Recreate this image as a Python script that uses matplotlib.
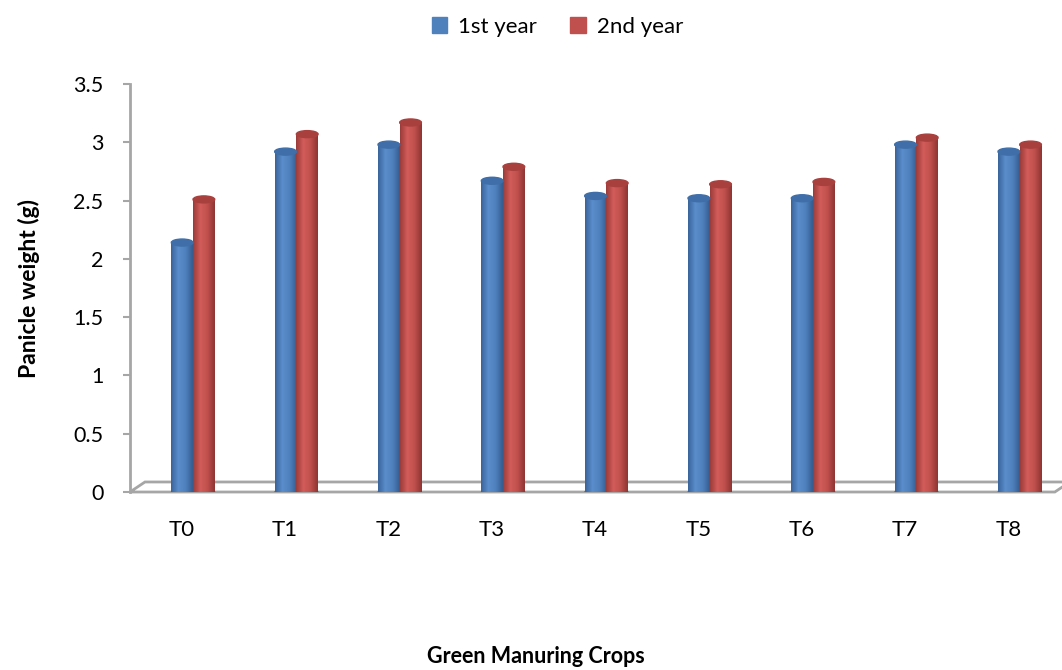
import numpy as np
import matplotlib
matplotlib.use("Agg")
import matplotlib.pyplot as plt
from matplotlib.patches import Ellipse, Polygon
from matplotlib.colors import LinearSegmentedColormap

plt.rcParams["font.family"] = ["Lato", "DejaVu Sans"]

treatments = ["T0", "T1", "T2", "T3", "T4", "T5", "T6", "T7", "T8"]
year1 = [2.14, 2.92, 2.98, 2.67, 2.54, 2.52, 2.52, 2.98, 2.92]
year2 = [2.51, 3.07, 3.17, 2.79, 2.65, 2.64, 2.66, 3.04, 2.98]
series_names = ["1st year", "2nd year"]
yticks = [0, 0.5, 1, 1.5, 2, 2.5, 3, 3.5]

BLUE = "#4f81bd"
RED = "#c0504d"
GREY = "#a6a6a6"

# cylinder shading: dark edge, light middle, dark edge
shade = {
    BLUE: LinearSegmentedColormap.from_list("b", ["#3a649a", "#5a8dcb", "#4f81bd", "#355d90"]),
    RED: LinearSegmentedColormap.from_list("r", ["#9b3c3a", "#d25c59", "#c0504d", "#8e3533"]),
}
cap_col = {BLUE: "#3f6ea8", RED: "#a8403e"}

fig = plt.figure(figsize=(10.62, 6.70), dpi=100)
ax = fig.add_axes([130 / 1062, 178 / 670, 930 / 1062, 408 / 670])

x = np.arange(len(treatments))
w = 0.21
depth = 0.11  # columns sit a little behind the front edge of the floor
grad = np.linspace(0, 1, 64).reshape(1, -1)

for vals, col, off in [(year1, BLUE, -w / 2), (year2, RED, w / 2)]:
    bars = ax.bar(x + off + depth, vals, width=w, color=col, zorder=3, linewidth=0)
    for b, v in zip(bars, vals):
        x0 = b.get_x()
        im = ax.imshow(grad, cmap=shade[col], aspect="auto", zorder=3,
                       extent=(x0, x0 + w, 0, v))
        im.set_clip_path(b)
        ax.add_patch(Ellipse((x0 + w / 2, v), w, 0.06, color=cap_col[col], zorder=4))
        ax.add_patch(Ellipse((x0 + w / 2, 0), w, 0.03, color=col, zorder=2))

# floor of the 3-D plot area
dx, dy = 0.145, 0.086
floor = Polygon([(-0.5, 0), (8.45, 0), (8.45 + dx, dy), (-0.5 + dx, dy)],
                closed=True, fill=False, edgecolor=GREY, linewidth=2,
                clip_on=False, zorder=1)
ax.add_patch(floor)

ax.set_xlim(-0.5, 8.5)
ax.set_ylim(0, 3.5)
ax.set_yticks(yticks)
ax.set_yticklabels([f"{t:g}" for t in yticks], fontsize=15.5)
ax.set_xticks(x)
ax.set_xticklabels(treatments, fontsize=16)
ax.tick_params(axis="y", direction="out", length=5, width=1.5, color=GREY, pad=14)
ax.tick_params(axis="x", length=0, pad=20)

for s in ["top", "right", "bottom"]:
    ax.spines[s].set_visible(False)
ax.spines["left"].set_color(GREY)
ax.spines["left"].set_linewidth(2)

ax.set_ylabel("Panicle weight (g)", fontsize=16.5, fontweight="bold", labelpad=24)
fig.text(0.505, 0.005, "Green Manuring Crops", ha="center", va="bottom",
         fontsize=15.5, fontweight="bold")

handles = [plt.Rectangle((0, 0), 1, 1, color=c) for c in (BLUE, RED)]
fig.legend(handles, series_names, loc="upper center", bbox_to_anchor=(0.525, 1.005),
           ncol=2, frameon=False, fontsize=16, handlelength=0.7, handleheight=0.7,
           handletextpad=0.5, columnspacing=1.5)

fig.savefig("out.png", dpi=100)
